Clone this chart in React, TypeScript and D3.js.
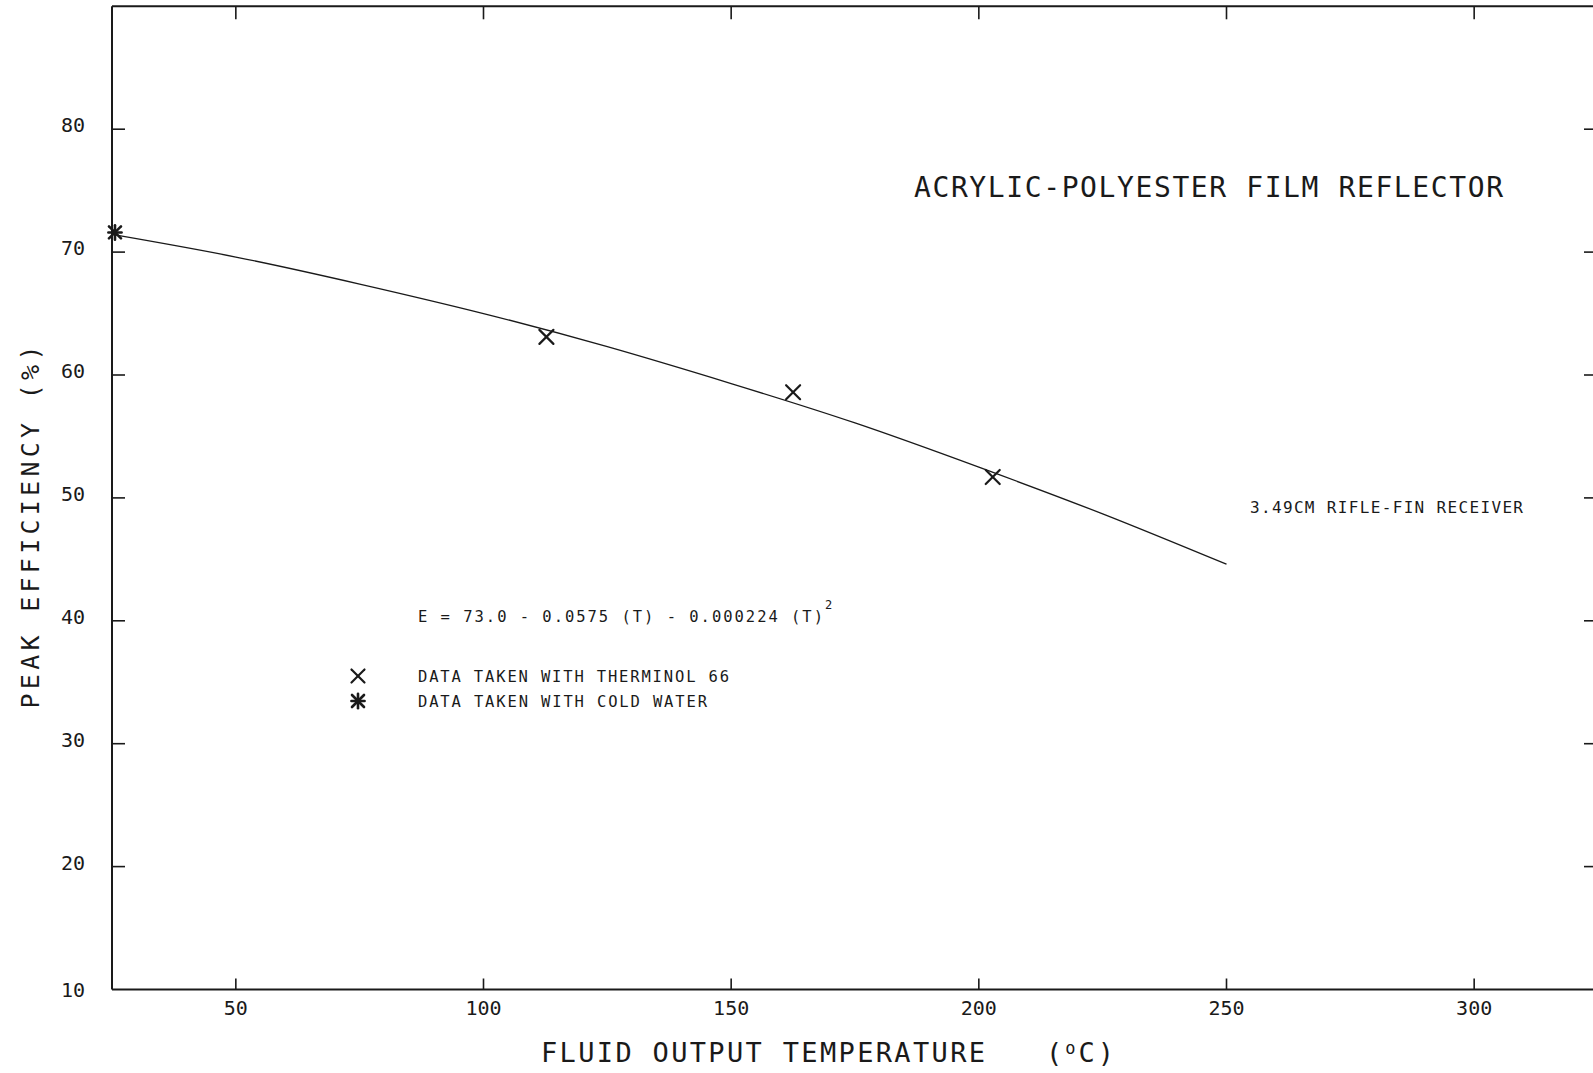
import React from "react";
import * as d3 from "d3";

const W = 1593;
const H = 1073;

const xTicks = [50, 100, 150, 200, 250, 300];
const yTicks = [10, 20, 30, 40, 50, 60, 70, 80];
const yTickSides = [20, 30, 40, 50, 60, 70, 80];

// Thermninol 66 data (x marks)
const thermTemps = [112.7, 162.5, 202.8];
const thermEff = [63.1, 58.6, 51.7];
// Cold water data (asterisk)
const waterTemps = [25.6];
const waterEff = [71.6];

// Fitted curve
const curveTemps = [25.6, 50, 75, 100, 125, 150, 175, 200, 225, 250];
const curveEff = [71.4, 69.6, 67.4, 65.0, 62.3, 59.3, 56.1, 52.5, 48.7, 44.6];

const FONT = "'DejaVu Sans Mono', 'Liberation Mono', monospace";
const INK = "#1a1a1a";

export default function App() {
  const x = d3.scaleLinear().domain([25, 325]).range([112, 1598]);
  const y = d3.scaleLinear().domain([10, 90]).range([989.5, 6.3]);

  const line = d3
    .line<number>()
    .x((_, i) => x(curveTemps[i]))
    .y((d) => y(d))
    .curve(d3.curveNatural);

  const xMark = (cx: number, cy: number, r: number, key: string) => (
    <g key={key} stroke={INK} strokeWidth={2.2} strokeLinecap="round">
      <line x1={cx - r} y1={cy - r} x2={cx + r} y2={cy + r} />
      <line x1={cx - r} y1={cy + r} x2={cx + r} y2={cy - r} />
    </g>
  );
  const star = (cx: number, cy: number, r: number, key: string) => (
    <g key={key} stroke={INK} strokeWidth={2.6} strokeLinecap="round">
      <line x1={cx - r} y1={cy - r} x2={cx + r} y2={cy + r} />
      <line x1={cx - r} y1={cy + r} x2={cx + r} y2={cy - r} />
      <line x1={cx} y1={cy - r * 1.2} x2={cx} y2={cy + r * 1.2} />
      <line x1={cx - r * 1.1} y1={cy} x2={cx + r * 1.1} y2={cy} />
    </g>
  );

  const x0 = x(25);
  const x1 = x(325);
  const yb = y(10);
  const yt = y(90);

  return (
    <svg
      width={W}
      height={H}
      style={{ position: "absolute", left: 0, top: 0, background: "#fff" }}
      fontFamily={FONT}
    >
      <rect x={0} y={0} width={W} height={H} fill="#fff" />
      {/* frame */}
      <g stroke={INK} strokeWidth={2} fill="none">
        <line x1={x0} y1={yt} x2={x1} y2={yt} />
        <line x1={x0} y1={yt} x2={x0} y2={yb} />
        <line x1={x0} y1={yb} x2={x1} y2={yb} />
        <line x1={x1} y1={yt} x2={x1} y2={yb} />
      </g>
      {/* ticks */}
      <g stroke={INK} strokeWidth={1.6}>
        {xTicks.map((t) => (
          <line key={"bt" + t} x1={x(t)} x2={x(t)} y1={yb} y2={yb - 11} />
        ))}
        {xTicks.map((t) => (
          <line key={"tt" + t} x1={x(t)} x2={x(t)} y1={yt} y2={yt + 13} />
        ))}
        {yTickSides.map((t) => (
          <line key={"lt" + t} x1={x0} x2={x0 + 13} y1={y(t)} y2={y(t)} />
        ))}
        {yTickSides.map((t) => (
          <line key={"rt" + t} x1={x1} x2={x1 - 14} y1={y(t)} y2={y(t)} />
        ))}
      </g>
      {/* tick labels */}
      <g fill={INK} fontSize={20}>
        {yTicks.map((t) => (
          <text key={"yl" + t} x={85} y={y(t) + (t === 10 ? 7 : 3)} textAnchor="end">
            {t}
          </text>
        ))}
        {xTicks.map((t) => (
          <text key={"xl" + t} x={x(t)} y={1015} textAnchor="middle">
            {t}
          </text>
        ))}
      </g>
      {/* axis titles */}
      <text
        x={0}
        y={0}
        transform="translate(39,527) rotate(-90)"
        textAnchor="middle"
        fontSize={25}
        fill={INK}
        textLength={363}
        lengthAdjust="spacing"
      >
        PEAK EFFICIENCY (%)
      </text>
      <text x={541} y={1062} fontSize={27} fill={INK} textLength={444} lengthAdjust="spacing">
        FLUID OUTPUT TEMPERATURE
      </text>
      <text x={1046} y={1062} fontSize={27} fill={INK} textLength={68} lengthAdjust="spacing">
        (<tspan dy={-8} fontSize={17}>o</tspan><tspan dy={8}>C)</tspan>
      </text>
      {/* title */}
      <text x={914} y={197} fontSize={28} fill={INK} textLength={589} lengthAdjust="spacing">
        ACRYLIC-POLYESTER FILM REFLECTOR
      </text>
      <text x={1250} y={513} fontSize={16} fill={INK} textLength={273} lengthAdjust="spacing">
        3.49CM RIFLE-FIN RECEIVER
      </text>
      {/* equation and legend */}
      <text x={418} y={622} fontSize={15.5} fill={INK} textLength={405} lengthAdjust="spacing">
        E = 73.0 - 0.0575 (T) - 0.000224 (T)
      </text>
      <text x={825} y={609} fontSize={12} fill={INK}>
        2
      </text>
      {xMark(358, 676, 6.5, "lgx")}
      <text x={418} y={682} fontSize={15.5} fill={INK} textLength={311} lengthAdjust="spacing">
        DATA TAKEN WITH THERMINOL 66
      </text>
      {star(358, 701, 6, "lgs")}
      <text x={418} y={707} fontSize={15.5} fill={INK} textLength={289} lengthAdjust="spacing">
        DATA TAKEN WITH COLD WATER
      </text>
      {/* fitted curve */}
      <path d={line(curveEff) || ""} fill="none" stroke={INK} strokeWidth={1.3} />
      {/* data markers */}
      {thermTemps.map((t, i) => xMark(x(t), y(thermEff[i]), 7, "tx" + i))}
      {waterTemps.map((t, i) => star(x(t), y(waterEff[i]), 6, "ws" + i))}
    </svg>
  );
}
